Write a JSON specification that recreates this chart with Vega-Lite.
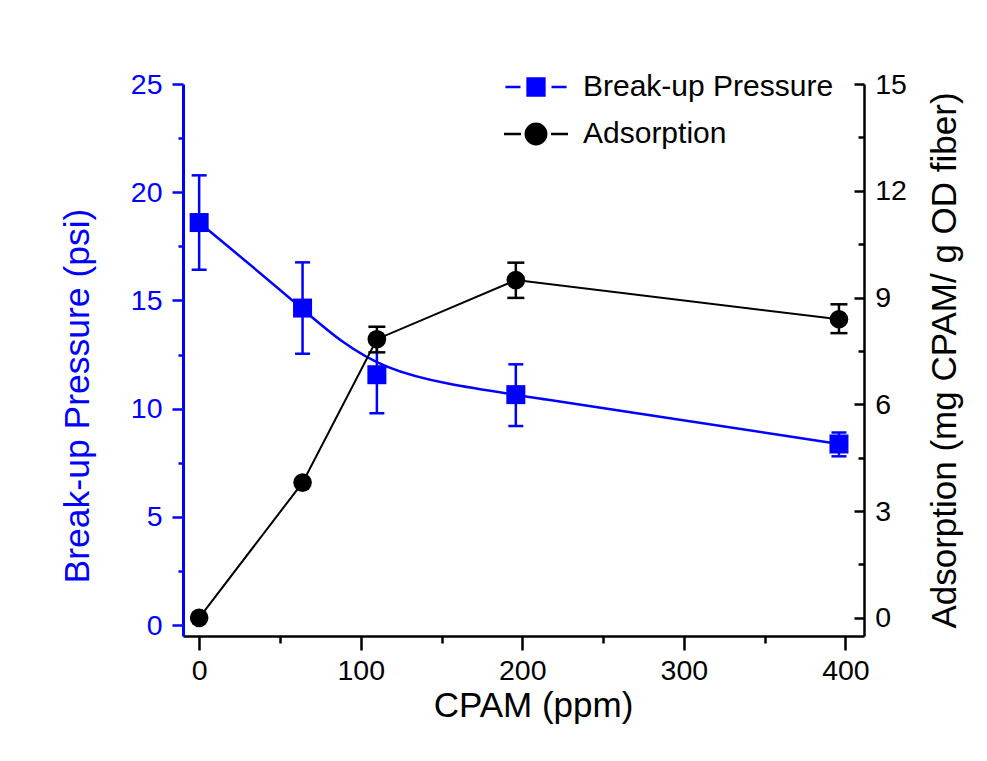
{
  "$schema": "https://vega.github.io/schema/vega-lite/v6.json",
  "width": 681,
  "height": 552,
  "autosize": {"type": "none"},
  "padding": {"left": 183, "top": 84, "right": 123, "bottom": 125},
  "background": "white",
  "config": {
    "view": {"stroke": null},
    "font": "Liberation Sans",
    "legend": {
      "orient": "none",
      "legendX": 338,
      "legendY": -12,
      "padding": 0,
      "symbolSize": 400,
      "symbolStrokeWidth": 2.5,
      "symbolOpacity": 1,
      "labelFont": "Liberation Sans",
      "labelFontSize": 30,
      "labelColor": "black",
      "labelOffset": 32,
      "labelLimit": 0,
      "rowPadding": 16
    }
  },
  "data": {
    "values": [
      {"cpam": 0, "p": 18.6, "p_lo": 16.42, "p_hi": 20.78, "a": 0.0, "a_lo": null, "a_hi": null},
      {"cpam": 64, "p": 14.65, "p_lo": 12.54, "p_hi": 16.76, "a": 3.8, "a_lo": null, "a_hi": null},
      {"cpam": 110, "p": 11.57, "p_lo": 9.79, "p_hi": 13.35, "a": 7.83, "a_lo": 7.46, "a_hi": 8.18},
      {"cpam": 196, "p": 10.65, "p_lo": 9.2, "p_hi": 12.05, "a": 9.49, "a_lo": 8.99, "a_hi": 9.98},
      {"cpam": 396, "p": 8.37, "p_lo": 7.8, "p_hi": 8.9, "a": 8.39, "a_lo": 8.0, "a_hi": 8.81}
    ]
  },
  "layer": [
    {
      "layer": [
        {
          "mark": {"type": "rule", "color": "#0000FF", "strokeWidth": 2.5},
          "encoding": {
            "x": {"field": "cpam", "type": "quantitative", "scale": {"domain": [-10, 411.5], "nice": false, "zero": false}, "title": "CPAM (ppm)"},
            "y": {"field": "p_lo", "type": "quantitative", "scale": {"domain": [-0.5, 25], "nice": false, "zero": false}, "title": "Break-up Pressure (psi)"},
            "y2": {"field": "p_hi"}
          }
        },
        {
          "mark": {"type": "tick", "orient": "horizontal", "color": "#0000FF", "size": 15, "thickness": 2.5, "opacity": 1},
          "encoding": {
            "x": {"field": "cpam", "type": "quantitative", "scale": {"domain": [-10, 411.5], "nice": false, "zero": false}, "title": "CPAM (ppm)"},
            "y": {"field": "p_lo", "type": "quantitative", "scale": {"domain": [-0.5, 25], "nice": false, "zero": false}, "title": "Break-up Pressure (psi)"}
          }
        },
        {
          "mark": {"type": "tick", "orient": "horizontal", "color": "#0000FF", "size": 15, "thickness": 2.5, "opacity": 1},
          "encoding": {
            "x": {"field": "cpam", "type": "quantitative", "scale": {"domain": [-10, 411.5], "nice": false, "zero": false}, "title": "CPAM (ppm)"},
            "y": {"field": "p_hi", "type": "quantitative", "scale": {"domain": [-0.5, 25], "nice": false, "zero": false}, "title": "Break-up Pressure (psi)"}
          }
        },
        {
          "mark": {"type": "line", "color": "#0000FF", "strokeWidth": 2.5, "interpolate": "basis"},
          "encoding": {
            "x": {"field": "cpam", "type": "quantitative", "scale": {"domain": [-10, 411.5], "nice": false, "zero": false}, "title": "CPAM (ppm)"},
            "y": {"field": "p", "type": "quantitative", "scale": {"domain": [-0.5, 25], "nice": false, "zero": false}, "title": "Break-up Pressure (psi)"}
          }
        },
        {
          "mark": {"type": "point", "shape": "square", "filled": true, "color": "#0000FF", "size": 361, "opacity": 1},
          "encoding": {
            "x": {
              "field": "cpam", "type": "quantitative",
              "scale": {"domain": [-10, 411.5], "nice": false, "zero": false},
              "title": "CPAM (ppm)",
              "axis": {
                "values": [0, 50, 100, 150, 200, 250, 300, 350, 400],
                "labelExpr": "datum.value % 100 === 0 ? datum.label : ''",
                "tickSize": {"condition": {"test": "datum.value % 100 !== 0", "value": 7}, "value": 14},
                "tickWidth": 2.5,
                "tickColor": "black",
                "domainColor": "black",
                "domainWidth": 2.5,
                "grid": false,
                "labelFont": "Liberation Sans",
                "labelFontSize": 28.5,
                "labelColor": "black",
                "labelPadding": 6.5,
                "labelOverlap": false,
                "labelFlush": false,
                "titleFont": "Liberation Sans",
                "titleFontSize": 35,
                "titleFontWeight": "normal",
                "titleColor": "black",
                "titlePadding": 3,
                "titleX": 350
              }
            },
            "y": {
              "field": "p", "type": "quantitative",
              "scale": {"domain": [-0.5, 25], "nice": false, "zero": false},
              "title": "Break-up Pressure (psi)",
              "axis": {
                "orient": "left",
                "values": [0, 2.5, 5, 7.5, 10, 12.5, 15, 17.5, 20, 22.5, 25],
                "labelExpr": "datum.value % 5 === 0 ? datum.label : ''",
                "tickSize": {"condition": {"test": "datum.value % 5 !== 0", "value": 5}, "value": 11},
                "tickWidth": 2.5,
                "tickColor": "#0000FF",
                "domainColor": "#0000FF",
                "domainWidth": 3,
                "grid": false,
                "labelFont": "Liberation Sans",
                "labelFontSize": 28.5,
                "labelColor": "#0000FF",
                "labelPadding": 10,
                "labelOverlap": false,
                "labelFlush": false,
                "titleFont": "Liberation Sans",
                "titleFontSize": 35.5,
                "titleFontWeight": "normal",
                "titleColor": "#0000FF",
                "titlePadding": 35,
                "titleY": 311.5
              }
            }
          }
        }
      ]
    },
    {
      "layer": [
        {
          "mark": {"type": "rule", "color": "black", "strokeWidth": 2.5},
          "encoding": {
            "x": {"field": "cpam", "type": "quantitative", "scale": {"domain": [-10, 411.5], "nice": false, "zero": false}, "title": "CPAM (ppm)"},
            "y": {"field": "a_lo", "type": "quantitative", "scale": {"domain": [-0.51, 15], "nice": false, "zero": false}, "title": "Adsorption (mg CPAM/ g OD fiber)"},
            "y2": {"field": "a_hi"}
          }
        },
        {
          "mark": {"type": "tick", "orient": "horizontal", "color": "black", "size": 17, "thickness": 2.5, "opacity": 1},
          "encoding": {
            "x": {"field": "cpam", "type": "quantitative", "scale": {"domain": [-10, 411.5], "nice": false, "zero": false}, "title": "CPAM (ppm)"},
            "y": {"field": "a_lo", "type": "quantitative", "scale": {"domain": [-0.51, 15], "nice": false, "zero": false}, "title": "Adsorption (mg CPAM/ g OD fiber)"}
          }
        },
        {
          "mark": {"type": "tick", "orient": "horizontal", "color": "black", "size": 17, "thickness": 2.5, "opacity": 1},
          "encoding": {
            "x": {"field": "cpam", "type": "quantitative", "scale": {"domain": [-10, 411.5], "nice": false, "zero": false}, "title": "CPAM (ppm)"},
            "y": {"field": "a_hi", "type": "quantitative", "scale": {"domain": [-0.51, 15], "nice": false, "zero": false}, "title": "Adsorption (mg CPAM/ g OD fiber)"}
          }
        },
        {
          "mark": {"type": "line", "color": "black", "strokeWidth": 2},
          "encoding": {
            "x": {"field": "cpam", "type": "quantitative", "scale": {"domain": [-10, 411.5], "nice": false, "zero": false}, "title": "CPAM (ppm)"},
            "y": {"field": "a", "type": "quantitative", "scale": {"domain": [-0.51, 15], "nice": false, "zero": false}, "title": "Adsorption (mg CPAM/ g OD fiber)"}
          }
        },
        {
          "mark": {"type": "point", "shape": "circle", "filled": true, "color": "black", "size": 346, "opacity": 1},
          "encoding": {
            "x": {"field": "cpam", "type": "quantitative", "scale": {"domain": [-10, 411.5], "nice": false, "zero": false}, "title": "CPAM (ppm)"},
            "y": {
              "field": "a", "type": "quantitative",
              "scale": {"domain": [-0.51, 15], "nice": false, "zero": false},
              "title": "Adsorption (mg CPAM/ g OD fiber)",
              "axis": {
                "orient": "right",
                "values": [0, 1.5, 3, 4.5, 6, 7.5, 9, 10.5, 12, 13.5, 15],
                "labelExpr": "datum.value % 3 === 0 ? datum.label : ''",
                "tickSize": {"condition": {"test": "datum.value % 3 !== 0", "value": -6}, "value": -10},
                "tickWidth": 2.5,
                "tickColor": "black",
                "domainColor": "black",
                "domainWidth": 2.5,
                "grid": false,
                "labelFont": "Liberation Sans",
                "labelFontSize": 28.5,
                "labelColor": "black",
                "labelPadding": 20.7,
                "labelOverlap": false,
                "labelFlush": false,
                "titleFont": "Liberation Sans",
                "titleFontSize": 35,
                "titleFontWeight": "normal",
                "titleColor": "black",
                "titleAngle": 270,
                "titleBaseline": "top",
                "titlePadding": 21
              }
            }
          }
        }
      ]
    },
    {
      "data": {"values": [{"series": "Break-up Pressure"}, {"series": "Adsorption"}]},
      "transform": [{"filter": "false"}],
      "mark": {"type": "point", "filled": true, "opacity": 1, "strokeWidth": 2.5},
      "encoding": {
        "fill": {"field": "series", "type": "nominal", "scale": {"domain": ["Break-up Pressure", "Adsorption"], "range": ["#0000FF", "#000000"]}, "legend": {"title": null}},
        "stroke": {"field": "series", "type": "nominal", "scale": {"domain": ["Break-up Pressure", "Adsorption"], "range": ["#0000FF", "#000000"]}, "legend": {"title": null}},
        "shape": {"field": "series", "type": "nominal", "scale": {"domain": ["Break-up Pressure", "Adsorption"], "range": ["M-3.06,0H-1.55M-0.84,-0.84H0.84V0.84H-0.84ZM1.55,0H3.06", "M-3.2,0H-1.5M1.02,0A1.02,1.02 0 1,1 -1.02,0A1.02,1.02 0 1,1 1.02,0ZM1.5,0H3.2"]}, "legend": {"title": null}}
      }
    }
  ],
  "resolve": {"scale": {"y": "independent"}}
}
